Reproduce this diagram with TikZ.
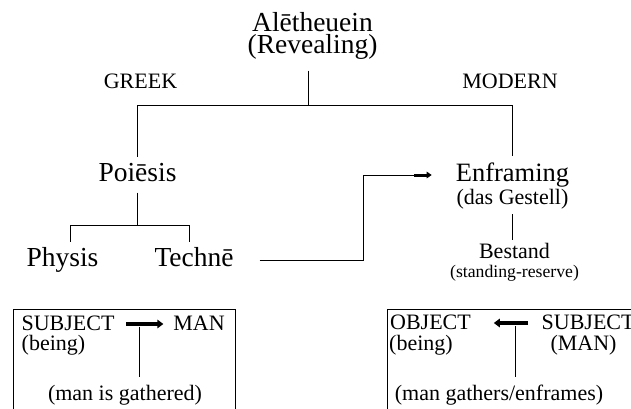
\documentclass[tikz,border=0pt]{standalone}
\usepackage{fontspec}
\setmainfont{Liberation Serif}
\usetikzlibrary{arrows.meta,calc}
\tikzset{
  txt/.style={anchor=base, inner sep=0pt, outer sep=0pt},
  big/.style={txt, font=\fontsize{27.5}{30}\selectfont},
  mid/.style={txt, font=\fontsize{22}{24}\selectfont},
  small/.style={txt, font=\fontsize{17.7}{20}\selectfont},
  conn/.style={line width=0.8pt},
  fat/.style={line width=3.2pt, -{Triangle[length=6pt,width=8.5pt]}},
  boxline/.style={line width=0.8pt}
}
\begin{document}
\begin{tikzpicture}[x=1pt,y=-1pt]
\useasboundingbox (0,0) rectangle (631,408);
\clip (0,0) rectangle (631,408);
% text nodes
\node[big] (alet) at (312.5,31.6) {Alētheuein};
\node[big] (rev) at (312.5,53.6) {(Revealing)};
\node[mid] (greek) at (140.5,88) {GREEK};
\node[mid] (modern) at (510,88) {MODERN};
\node[big] (poi) at (137.5,181.7) {Poiēsis};
\node[big] (phy) at (62.5,266.7) {Physis};
\node[big] (tec) at (194,266.7) {Technē};
\node[txt, font=\fontsize{26.5}{28}\selectfont] (enf) at (512.5,181.7) {Enframing};
\node[mid] (ges) at (512.5,204) {(das Gestell)};
\node[mid] (bes) at (514.5,258) {Bestand};
\node[small] (sres) at (514.5,277) {(standing-reserve)};
% junctions
\coordinate (top) at (308,105);
\coordinate (gl) at (137.7,105);
\coordinate (gr) at (512,105);
\coordinate (pj) at (137.7,225);
\coordinate (pl) at (70,225);
\coordinate (pr) at (189,225);
\coordinate (bend1) at (363.3,260.7);
\coordinate (bend2) at (363.3,175);
\coordinate (tip0) at (414,175);
\coordinate (tip) at (431.7,175);
% tree
\draw[conn] ($(top |- rev.base)+(0,17.1)$) -- (top);
\draw[conn] (gl) -- (gr);
\draw[conn] (gl) -- ($(gl |- poi.base)+(0,-25)$);
\draw[conn] (gr) -- ($(gr |- enf.base)+(0,-25.7)$);
\draw[conn] ($(pj |- poi.base)+(0,11)$) -- (pj);
\draw[conn] (pl) -- (pr);
\draw[conn] (pl) -- ($(pl |- phy.base)+(0,-25)$);
\draw[conn] (pr) -- ($(pr |- tec.base)+(0,-25)$);
\draw[conn] ($(tec.east |- bend1)+(26,0)$) -- (bend1) -- (bend2) -- (tip0);
\draw[line width=3pt, -{Triangle[length=5pt,width=6.5pt]}] (tip0) -- (tip);
\draw[conn] ($(gr |- ges.base)+(0,10)$) -- ($(gr |- bes.base)+(0,-18)$);
% left box
\draw[boxline] (13,309) rectangle (235,430);
\node[mid] (subl) at (68,330.7) {SUBJECT};
\node[mid] (manl) at (199,330.7) {MAN};
\node[mid] (beil) at (53.5,350.7) {(being)};
\node[mid] (gath) at (125,400) {(man is gathered)};
\draw[fat] ($(subl.east |- 0,324)+(12,0)$) -- ($(manl.west |- 0,324)+(-10,0)$);
\draw[conn] ($(139,0 |- subl.base)+(0,-4)$) -- ($(139,0 |- gath.base)+(0,-22.7)$);
% right box
\draw[boxline] (387.3,309) rectangle (660,430);
\node[mid] (obj) at (430.5,329) {OBJECT};
\node[mid, anchor=base west] (subr) at (541.7,329) {SUBJECT};
\node[mid] (beir) at (421,350) {(being)};
\node[mid] (manr) at (583.5,350) {(MAN)};
\node[mid] (enfr) at (499,400) {(man gathers/enframes)};
\draw[fat] ($(subr.west |- 0,323)+(-13.5,0)$) -- ($(obj.east |- 0,323)+(23,0)$);
\draw[conn] ($(515.7,0 |- obj.base)+(0,-3)$) -- ($(515.7,0 |- enfr.base)+(0,-23)$);
\end{tikzpicture}
\end{document}
